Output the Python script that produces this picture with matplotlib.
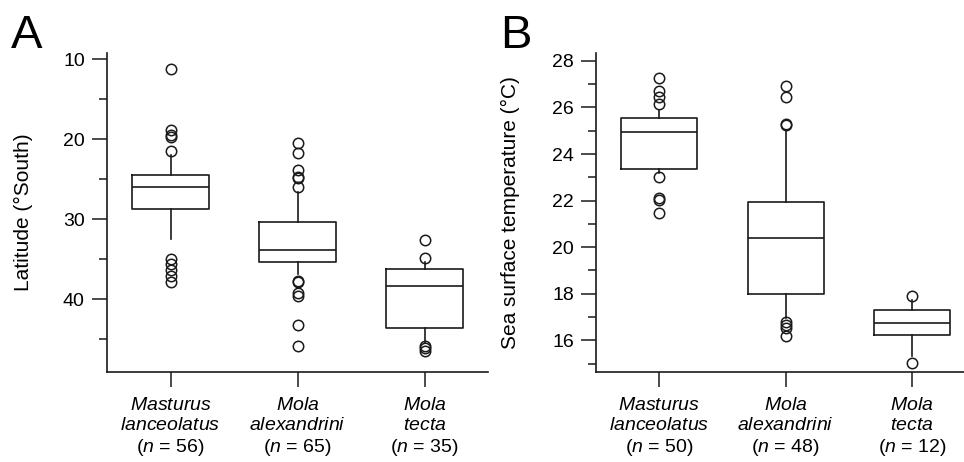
import numpy as np
import matplotlib
matplotlib.use("Agg")
import matplotlib.pyplot as plt

plt.rcParams['font.family'] = ['Liberation Sans', 'DejaVu Sans']
plt.rcParams['mathtext.fontset'] = 'custom'
plt.rcParams['mathtext.it'] = 'Liberation Sans:italic'
plt.rcParams['mathtext.rm'] = 'Liberation Sans'

# species and sample sizes
species = [("Masturus", "lanceolatus"), ("Mola", "alexandrini"), ("Mola", "tecta")]
n_lat = [56, 65, 35]
n_sst = [50, 48, 12]

# panel A: latitude (deg South)
lat_q1 = [24.4, 30.4, 36.2]
lat_med = [25.9, 33.8, 38.3]
lat_q3 = [28.7, 35.4, 43.6]
lat_whislo = [22.0, 26.6, 35.4]
lat_whishi = [32.5, 36.8, 45.5]
lat_fliers = [
    [11.25, 18.8, 19.4, 19.7, 21.4, 35.0, 35.6, 36.3, 37.1, 37.9],
    [20.5, 21.7, 23.8, 24.7, 24.8, 25.9, 37.7, 37.8, 39.2, 39.6, 43.2, 45.8],
    [32.6, 34.9, 45.8, 46.1, 46.5],
]

# panel B: sea surface temperature (deg C)
sst_q1 = [23.34, 17.99, 16.23]
sst_med = [24.93, 20.39, 16.74]
sst_q3 = [25.53, 21.94, 17.31]
sst_whislo = [23.2, 16.95, 15.33]
sst_whishi = [25.9, 25.05, 17.73]
sst_fliers = [
    [27.26, 26.72, 26.46, 26.17, 23.0, 22.1, 22.03, 21.46],
    [26.91, 26.43, 25.27, 25.23, 16.8, 16.64, 16.54, 16.18],
    [17.91, 15.01],
]


def make_stats(q1, med, q3, lo, hi, fl):
    out = []
    for i in range(len(q1)):
        out.append(dict(q1=q1[i], med=med[i], q3=q3[i], whislo=lo[i],
                        whishi=hi[i], fliers=fl[i]))
    return out


def tick_labels(ns):
    labs = []
    for (g, s), n in zip(species, ns):
        labs.append("$\\mathit{%s}$\n$\\mathit{%s}$\n($\\mathit{n}$ = %d)" % (g, s, n))
    return labs


fig = plt.figure(figsize=(9.64, 4.62), dpi=100)
W, H = 964.0, 462.0
axA = fig.add_axes([107 / W, 1 - 372 / H, (488 - 107) / W, (372 - 53) / H])
axB = fig.add_axes([596 / W, 1 - 372 / H, (975.5 - 596) / W, (372 - 53) / H])

lw = 1.2
ink = '#1a1a1a'
boxprops = dict(color=ink, linewidth=lw)
flierprops = dict(marker='o', markersize=7.5, markerfacecolor='none',
                  markeredgecolor=ink, markeredgewidth=1.1, linestyle='none')

for ax, st, ns in [
    (axA, make_stats(lat_q1, lat_med, lat_q3, lat_whislo, lat_whishi, lat_fliers), n_lat),
    (axB, make_stats(sst_q1, sst_med, sst_q3, sst_whislo, sst_whishi, sst_fliers), n_sst),
]:
    ax.bxp(st, positions=[1, 2, 3], widths=0.6, showcaps=False,
           boxprops=boxprops, whiskerprops=boxprops,
           medianprops=dict(color=ink, linewidth=lw),
           flierprops=flierprops)
    ax.set_xlim(0.5, 3.5)
    ax.set_xticks([1, 2, 3])
    ax.set_xticklabels(tick_labels(ns), fontsize=15.5, linespacing=1.2)
    for s in ['top', 'right']:
        ax.spines[s].set_visible(False)
    for s in ['left', 'bottom']:
        ax.spines[s].set_linewidth(1.2)
        ax.spines[s].set_color(ink)
    ax.tick_params(axis='both', which='major', length=11, width=1.1,
                   color=ink, labelsize=14, pad=5)
    ax.tick_params(axis='x', pad=7)
    ax.tick_params(axis='y', which='minor', length=6, width=1.1, color=ink)

axA.set_ylim(49.1, 9.2)
axA.set_yticks([10, 20, 30, 40])
axA.set_yticks([15, 25, 35, 45], minor=True)
axA.set_ylabel("Latitude (°South)", fontsize=15)
axA.yaxis.set_label_coords(-0.194, 0.5)

axB.set_ylim(14.64, 28.34)
axB.set_yticks([16, 18, 20, 22, 24, 26, 28])
axB.set_yticks([15, 17, 19, 21, 23, 25, 27], minor=True)
axB.set_ylabel("Sea surface temperature (°C)", fontsize=15)
axB.yaxis.set_label_coords(-0.2, 0.5)

fig.text(11 / W, 1 - 47.5 / H, "A", fontsize=34, ha='left', va='baseline')
fig.text(500 / W, 1 - 48 / H, "B", fontsize=34, ha='left', va='baseline')

fig.savefig("out.png", dpi=100)
